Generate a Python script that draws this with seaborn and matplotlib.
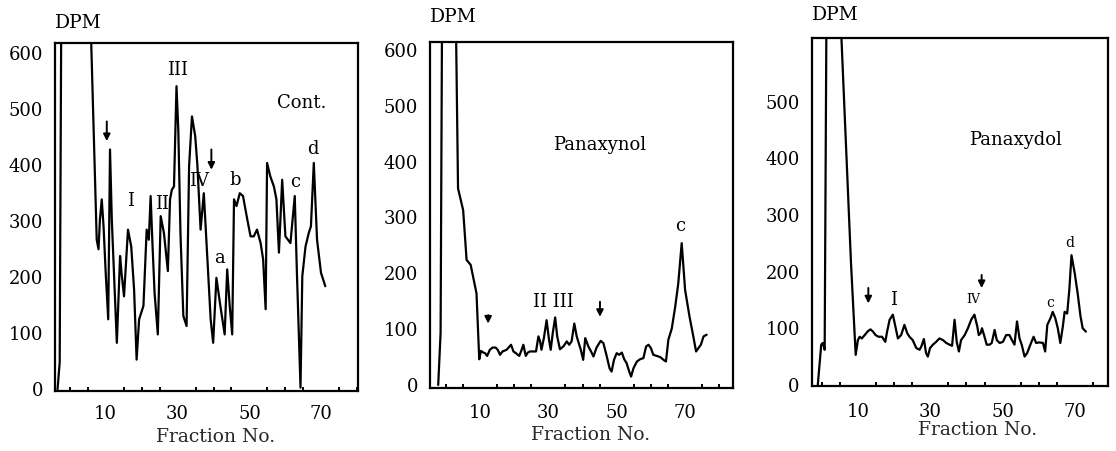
import matplotlib
matplotlib.use("Agg")
import matplotlib.pyplot as plt
import seaborn as sns
import pandas as pd
from matplotlib.ticker import MultipleLocator

# ---------------- data ----------------
cont_fraction = [-3.4, -2.8, -2.2, 5.6, 6.0, 7.5, 8.0, 8.4, 8.9, 9.4, 10.0, 10.7, 11.2, 11.7, 12.3,
                 13.1, 14.0, 14.4, 15.1, 16.2, 17.1, 17.9, 18.6, 19.3, 20.5, 21.4, 22.0, 22.5, 23.0,
                 23.6, 24.5, 25.3, 26.2, 27.3, 27.9, 28.4, 29.0, 29.7, 30.2, 30.8, 31.6, 32.5, 33.2,
                 34.0, 34.9, 35.5, 36.4, 37.3, 38.4, 39.2, 39.9, 40.8, 41.9, 43.1, 43.8, 44.5, 45.2,
                 45.7, 46.4, 47.3, 48.2, 49.4, 50.3, 51.2, 52.1, 53.1, 53.8, 54.5, 54.9, 55.8, 56.8,
                 57.5, 58.2, 59.1, 60.0, 60.7, 61.4, 62.6, 63.2, 64.2, 64.7, 65.6, 66.5, 67.1, 67.9,
                 68.8, 69.9, 71.1]
cont_dpm = [0, 48, 900, 900, 612, 267, 250, 303, 339, 291, 208, 125, 428, 303, 208,
            83, 238, 208, 166, 285, 255, 178, 53, 125, 149, 285, 267, 345, 261,
            172, 98, 309, 279, 211, 339, 356, 362, 541, 463, 279, 131, 113, 398,
            487, 452, 401, 285, 350, 220, 125, 83, 199, 149, 98, 214, 149, 98,
            339, 327, 350, 345, 303, 273, 273, 285, 261, 232, 143, 404, 380, 362,
            339, 244, 374, 273, 267, 261, 345, 208, 3, 202, 255, 279, 291, 404,
            267, 208, 184]

ynol_fraction = [-2.2, -1.5, -0.9, 3.0, 3.6, 5.1, 6.1, 7.3, 8.2, 9.0, 9.8,
                 10.3, 11.0, 11.5, 12.1, 12.9, 13.7, 14.6, 15.2, 15.9, 16.6, 17.8, 19.1, 19.8,
                 20.5, 21.5, 22.2, 22.7, 23.4, 24.0, 24.6, 25.6, 26.4, 27.1, 27.6, 28.0, 28.7,
                 29.5, 30.2, 30.7, 31.3, 32.0, 32.6, 33.4, 34.4, 35.4, 36.1, 36.8, 37.6, 38.3,
                 39.5, 40.2, 40.8, 41.7, 42.5, 43.2, 44.1, 45.3, 46.1, 47.1, 47.9, 48.5, 49.2,
                 50.0, 50.7, 51.5, 52.2, 52.9, 53.6, 54.2, 54.9, 55.9, 56.8, 57.8, 58.6, 59.3,
                 60.0, 60.7, 61.7, 62.7, 63.7, 64.4, 65.1, 66.1, 67.1, 68.0, 69.0, 70.0, 71.3,
                 72.4, 73.2, 73.9, 74.6, 75.4, 76.3]
ynol_dpm = [0, 93, 900, 640, 352, 313, 224, 215, 188, 164, 46,
            61, 58, 57, 52, 63, 67, 67, 63, 54, 60, 63, 72, 60,
            57, 52, 63, 72, 52, 58, 60, 60, 60, 87, 78, 63, 84,
            116, 81, 63, 93, 121, 87, 64, 69, 78, 72, 78, 110, 87,
            63, 45, 84, 69, 60, 51, 67, 79, 75, 51, 30, 24, 45,
            57, 54, 58, 46, 39, 25, 15, 30, 42, 46, 48, 69, 72,
            66, 54, 52, 50, 45, 42, 81, 101, 140, 182, 254, 170, 122,
            87, 60, 66, 72, 87, 90]

ydol_fraction = [-1.2, -0.25, 0.2, 0.7, 1.4, 5.3, 8.0, 9.3,
                 9.9, 10.4, 11.0, 11.8, 12.7, 13.4, 14.1, 14.8, 15.6, 16.6, 17.5, 18.0, 18.7,
                 19.6, 20.2, 21.0, 21.9, 22.8, 23.6, 24.2, 25.1, 26.1, 27.0, 27.5, 28.2, 28.8,
                 29.3, 29.9, 30.7, 31.6, 32.5, 33.5, 34.4, 35.3, 36.0, 36.7, 37.3, 37.9, 38.5,
                 39.5, 40.4, 41.3, 42.2, 43.0, 43.4, 43.9, 44.3, 45.0, 45.6, 46.4, 47.0, 47.8,
                 48.4, 49.2, 50.1, 51.0, 51.9, 52.6, 53.3, 54.0, 54.7, 55.3, 56.1, 56.8, 57.7,
                 58.6, 59.3, 60.2, 61.2, 61.8, 62.4, 63.3, 63.9, 64.6, 65.3, 66.0, 66.7, 67.2,
                 67.9, 68.5, 69.1, 70.0, 70.8, 71.6, 72.2, 73.1]
ydol_dpm = [0, 71, 74, 62, 900, 620, 215, 53,
            79, 85, 82, 88, 95, 98, 94, 88, 85, 85, 76, 94, 115,
            124, 106, 82, 88, 106, 91, 85, 79, 65, 62, 68, 81, 56,
            50, 65, 71, 76, 82, 79, 74, 71, 69, 115, 76, 59, 79,
            88, 100, 115, 124, 103, 88, 91, 100, 85, 71, 71, 74, 97,
            79, 74, 76, 88, 88, 79, 71, 112, 82, 71, 50, 56, 71,
            85, 74, 75, 74, 59, 106, 118, 129, 118, 100, 74, 103, 129,
            126, 168, 229, 197, 162, 121, 100, 94]

x_tick_values = [10, 30, 50, 70]
y_ticks_full = [0, 100, 200, 300, 400, 500, 600]
y_ticks_short = [0, 100, 200, 300, 400, 500]

cont_labels = [("III", 29.9, 570, 13), ("Cont.", 64.6, 511, 13), ("I", 16.9, 336, 13),
               ("II", 25.6, 330, 13), ("IV", 35.9, 371, 13), ("a", 41.8, 235, 13),
               ("b", 46.1, 374, 13), ("c", 62.8, 370, 13), ("d", 67.7, 428, 13)]
cont_arrows = [(10.3, 483, 438), (39.4, 433, 387)]
ynol_labels = [("Panaxynol", 44.9, 430, 13), ("II III", 31.5, 149, 13), ("c", 68.5, 284, 13)]
ynol_arrows = [(12.4, 130, 105), (45.1, 154, 117)]
ydol_labels = [("Panaxydol", 53.6, 432, 13), ("I", 19.9, 150, 13), ("IV", 41.9, 150, 9),
               ("c", 63.1, 144, 10), ("d", 68.5, 250, 10)]
ydol_arrows = [(12.8, 176, 139), (44.2, 199, 166)]

# ---------------- style ----------------
sns.set_theme(style="white")
plt.rcParams['font.family'] = ['DejaVu Serif']
plt.rcParams['text.color'] = 'black'
plt.rcParams['xtick.color'] = 'black'
plt.rcParams['ytick.color'] = 'black'

fig = plt.figure(figsize=(11.16, 4.51), dpi=100)

panels = [
    dict(pos=[0.0493, 0.133, 0.2715, 0.7716], x=cont_fraction, y=cont_dpm,
         xlim=(-4.1, 80.2), ylim=(-3, 618), yticks=y_ticks_full,
         labels=cont_labels, arrows=cont_arrows, xpad=10, dpm_y=1.057, xlab=(0.53, -0.132)),
    dict(pos=[0.3853, 0.139, 0.2715, 0.7687], x=ynol_fraction, y=ynol_dpm,
         xlim=(-4.6, 84.0), ylim=(-6, 615), yticks=y_ticks_full,
         labels=ynol_labels, arrows=ynol_arrows, xpad=11, dpm_y=1.071, xlab=(0.53, -0.135)),
    dict(pos=[0.7273, 0.1441, 0.2658, 0.771], x=ydol_fraction, y=ydol_dpm,
         xlim=(-2.9, 79.3), ylim=(-2, 612), yticks=y_ticks_short,
         labels=ydol_labels, arrows=ydol_arrows, xpad=12, dpm_y=1.067, xlab=(0.56, -0.127)),
]

for p in panels:
    ax = fig.add_axes(p["pos"])
    df = pd.DataFrame({"Fraction": p["x"], "DPM": p["y"]})
    sns.lineplot(data=df, x="Fraction", y="DPM", ax=ax, color="black", lw=1.6,
                 sort=False, estimator=None)
    ax.set_xlim(*p["xlim"])
    ax.set_ylim(*p["ylim"])
    ax.set_yticks(p["yticks"])
    ax.set_yticklabels([str(v) for v in p["yticks"]], fontsize=13)
    ax.set_xticks(x_tick_values)
    ax.set_xticklabels([str(v) for v in x_tick_values], fontsize=13)
    ax.xaxis.set_minor_locator(MultipleLocator(5))
    ax.tick_params(axis="x", which="major", length=0, pad=p["xpad"], bottom=True)
    ax.tick_params(axis="x", which="minor", direction="in", length=3, width=1.4, bottom=True)
    ax.tick_params(axis="y", which="both", length=0, pad=8.5, left=True)
    for s in ax.spines.values():
        s.set_color("black")
        s.set_linewidth(1.6)
    ax.set_ylabel("")
    ax.set_xlabel("Fraction No.", fontsize=13.5)
    ax.xaxis.label.set_va("center")
    ax.xaxis.set_label_coords(*p["xlab"])
    ax.text(0.0, p["dpm_y"], "DPM", transform=ax.transAxes, ha="left", va="center",
            fontsize=13.5)
    for txt, tx, ty, fs in p["labels"]:
        ax.text(tx, ty, txt, ha="center", va="center", fontsize=fs)
    for ax_x, y0, y1 in p["arrows"]:
        ax.annotate("", xy=(ax_x, y1), xytext=(ax_x, y0),
                    arrowprops=dict(arrowstyle="-|>", color="black", lw=1.4,
                                    mutation_scale=10))

fig.savefig("out.png", dpi=100)
